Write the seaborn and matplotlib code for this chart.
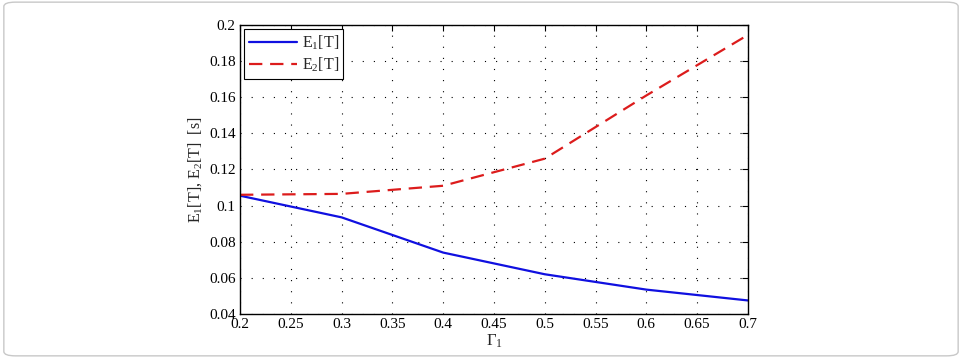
import numpy as np
import pandas as pd
import matplotlib
matplotlib.use("Agg")
import matplotlib.pyplot as plt
import seaborn as sns
from matplotlib.patches import FancyBboxPatch

# data
gamma1 = [0.2, 0.3, 0.4, 0.5, 0.6, 0.7]
e1 = [0.1055, 0.0935, 0.0740, 0.0620, 0.0535, 0.0475]
e2 = [0.1060, 0.1065, 0.1110, 0.1260, 0.1610, 0.1945]
series_names = ["E$_1$[T]", "E$_2$[T]"]

sns.set_style("white")
plt.rcParams['font.family'] = ['Liberation Serif', 'DejaVu Serif']
plt.rcParams['mathtext.fontset'] = 'custom'
plt.rcParams['mathtext.rm'] = 'Liberation Serif'
plt.rcParams['mathtext.it'] = 'Liberation Serif:italic'
plt.rcParams['mathtext.default'] = 'regular'

df = pd.DataFrame({
    "gamma": gamma1 * 2,
    "value": e1 + e2,
    "series": [series_names[0]] * len(e1) + [series_names[1]] * len(e2),
})

fig = plt.figure(figsize=(9.62, 3.58), dpi=100)
ax = fig.add_axes([0.2495, 0.1229, 0.528, 0.8073])

# rounded frame around the whole figure
frame = FancyBboxPatch((0.004, 0.006), 0.992, 0.988, boxstyle="round,pad=0,rounding_size=0.012",
                       transform=fig.transFigure, fill=False, edgecolor='#c8c8c8', linewidth=1.0)
fig.patches.append(frame)

sns.lineplot(data=df[df.series == series_names[0]], x="gamma", y="value", ax=ax,
             color='#1010e0', linewidth=1.6, label=series_names[0])
sns.lineplot(data=df[df.series == series_names[1]], x="gamma", y="value", ax=ax,
             color='#dc1c1c', linewidth=1.6, linestyle=(0, (6, 3.5)), label=series_names[1])

ax.set_xlim(0.2, 0.7)
ax.set_ylim(0.04, 0.2)
ax.set_xticks(np.arange(0.2, 0.701, 0.05))
ax.set_yticks(np.arange(0.04, 0.201, 0.02))
ax.set_xticklabels(['0.2', '0.25', '0.3', '0.35', '0.4', '0.45', '0.5', '0.55', '0.6', '0.65', '0.7'])
ax.set_yticklabels(['0.04', '0.06', '0.08', '0.1', '0.12', '0.14', '0.16', '0.18', '0.2'])
ax.grid(True, linestyle=(0, (1, 9)), color='black', linewidth=0.8)
ax.tick_params(direction='in', top=True, right=True, length=4, width=0.8,
               labelsize=11, colors='black', pad=3)
for s in ax.spines.values():
    s.set_visible(True)
    s.set_color('black')
    s.set_linewidth(1.0)

ax.set_xlabel("$\\Gamma_1$", fontsize=12, labelpad=1)
ax.set_ylabel("E$_1$[T], E$_2$[T]  [s]", fontsize=11.5, labelpad=4)

leg = ax.legend(loc='upper left', fontsize=11.5, frameon=True, fancybox=False,
                edgecolor='black', framealpha=1, handlelength=3.0, borderaxespad=0.25,
                labelspacing=0.2, handletextpad=0.3, borderpad=0.3)
leg.get_frame().set_linewidth(0.8)

fig.savefig("out.png", dpi=100)
